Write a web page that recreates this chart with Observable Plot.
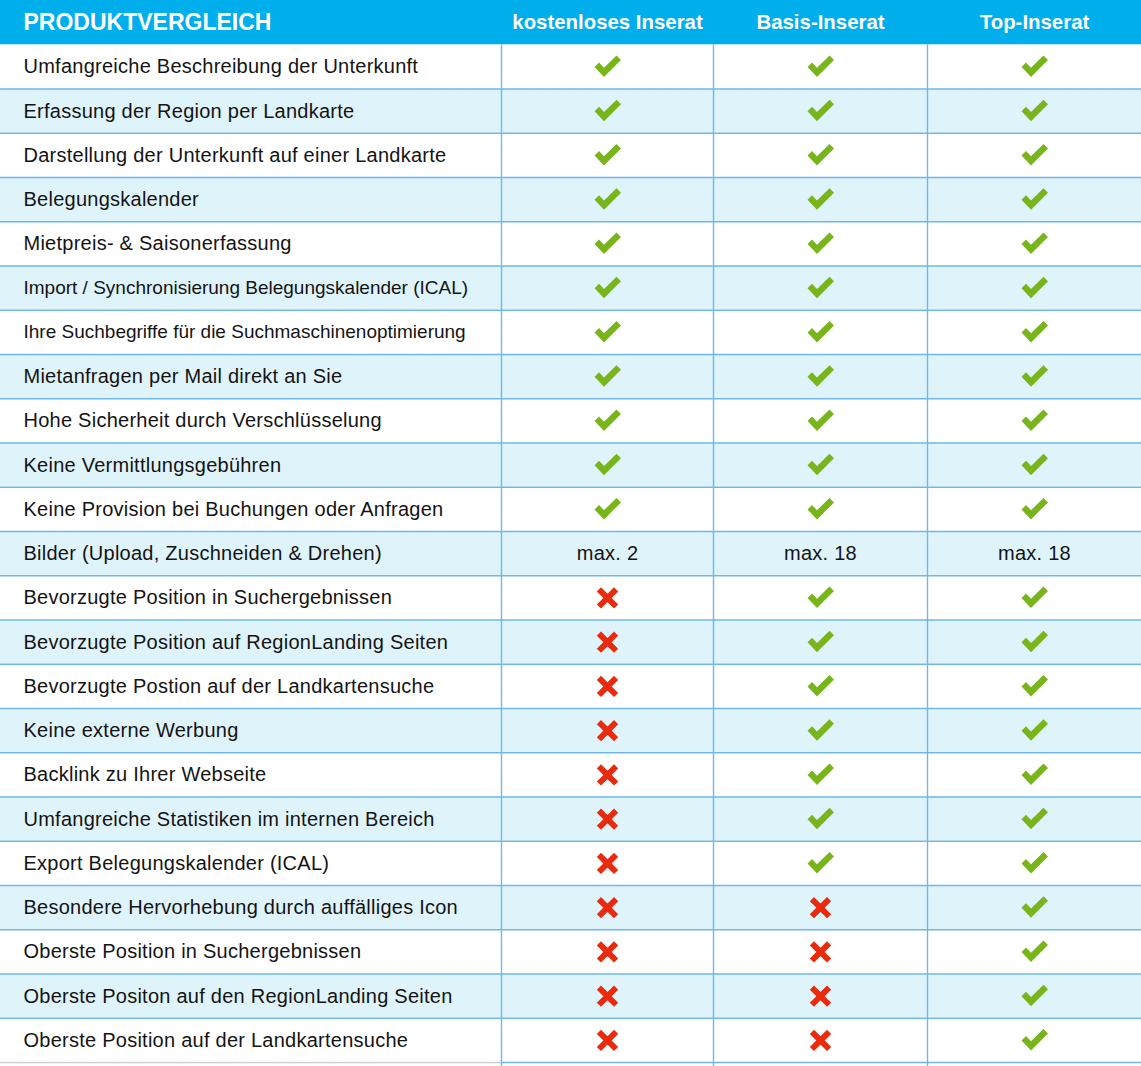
<!DOCTYPE html>
<html>
<head>
<meta charset="utf-8">
<script src="https://cdn.jsdelivr.net/npm/d3@7"></script>
<script src="https://cdn.jsdelivr.net/npm/@observablehq/plot@0.6"></script>
<style>
  html, body { margin: 0; padding: 0; background: #fff; }
  #chart svg { display: block; }
  #chart .lbl text { letter-spacing: 0.25px; }
</style>
</head>
<body>
<div id="chart"></div>
<script>
// ---- data ----
const title = "PRODUKTVERGLEICH";
const columns = ["kostenloses Inserat", "Basis-Inserat", "Top-Inserat"];
const features = [
  "Umfangreiche Beschreibung der Unterkunft",
  "Erfassung der Region per Landkarte",
  "Darstellung der Unterkunft auf einer Landkarte",
  "Belegungskalender",
  "Mietpreis- & Saisonerfassung",
  "Import / Synchronisierung Belegungskalender (ICAL)",
  "Ihre Suchbegriffe für die Suchmaschinenoptimierung",
  "Mietanfragen per Mail direkt an Sie",
  "Hohe Sicherheit durch Verschlüsselung",
  "Keine Vermittlungsgebühren",
  "Keine Provision bei Buchungen oder Anfragen",
  "Bilder (Upload, Zuschneiden & Drehen)",
  "Bevorzugte Position in Suchergebnissen",
  "Bevorzugte Position auf RegionLanding Seiten",
  "Bevorzugte Postion auf der Landkartensuche",
  "Keine externe Werbung",
  "Backlink zu Ihrer Webseite",
  "Umfangreiche Statistiken im internen Bereich",
  "Export Belegungskalender (ICAL)",
  "Besondere Hervorhebung durch auffälliges Icon",
  "Oberste Position in Suchergebnissen",
  "Oberste Positon auf den RegionLanding Seiten",
  "Oberste Position auf der Landkartensuche"
];
const freeValues = ["yes","yes","yes","yes","yes","yes","yes","yes","yes","yes","yes","max. 2",
  "no","no","no","no","no","no","no","no","no","no","no"];
const basisValues = ["yes","yes","yes","yes","yes","yes","yes","yes","yes","yes","yes","max. 18",
  "yes","yes","yes","yes","yes","yes","yes","no","no","no","no"];
const topValues = ["yes","yes","yes","yes","yes","yes","yes","yes","yes","yes","yes","max. 18",
  "yes","yes","yes","yes","yes","yes","yes","yes","yes","yes","yes"];

// ---- layout / style ----
const W = 1141, H = 1066;
const colEdges = [0, 501, 713, 927, 1141];
const nRows = features.length + 1;
const headerBlue = "#00aeeb";
const altBlue = "#dff3fb";
const lineBlue = "#6fb9ea";
const green = "#78b51b";
const red = "#ea2a0c";
const textColor = "#141414";
const font = "Liberation Sans, Arial, sans-serif";
const compactRows = new Set([
  "Import / Synchronisierung Belegungskalender (ICAL)",
  "Ihre Suchbegriffe für die Suchmaschinenoptimierung"
]);

const valueCols = [freeValues, basisValues, topValues];
const cells = [];
features.forEach((f, i) => {
  valueCols.forEach((vals, j) => cells.push({row: i + 1, col: j, value: vals[i]}));
});
const rows = features.map((f, i) => ({row: i + 1, label: f}));
const colCenter = (j) => (colEdges[j + 1] + colEdges[j + 2]) / 2;

// custom symbols
const checkSymbol = {
  draw(ctx) {
    ctx.moveTo(-13, 0);
    ctx.lineTo(-8.5, -4.5);
    ctx.lineTo(-3.5, 0.8);
    ctx.lineTo(9, -11.5);
    ctx.lineTo(13.5, -7);
    ctx.lineTo(-3.5, 10);
    ctx.closePath();
  }
};
const crossSymbol = {
  draw(ctx) {
    const a = 8.6, w = 2.1;
    ctx.moveTo(-a + w, -a - w); ctx.lineTo(a + w, a - w); ctx.lineTo(a - w, a + w); ctx.lineTo(-a - w, -a + w); ctx.closePath();
    ctx.moveTo(a - w, -a - w); ctx.lineTo(a + w, -a + w); ctx.lineTo(-a + w, a + w); ctx.lineTo(-a - w, a - w); ctx.closePath();
  }
};

const chart = Plot.plot({
  width: W,
  height: H,
  margin: 0,
  x: {domain: [0, W], range: [0, W], axis: null},
  y: {domain: [0, nRows], range: [0, 1062], axis: null},
  marks: [
    // row backgrounds
    Plot.rect(rows, {x1: 0, x2: W, y1: d => d.row, y2: d => d.row + 1,
      fill: d => d.row % 2 === 0 ? altBlue : "#ffffff"}),
    // header band
    Plot.rect([title], {x1: 0, x2: W, y1: 0, y2: 1, fill: headerBlue}),
    // horizontal lines under rows
    Plot.ruleY(rows, {y: d => d.row + 1, x1: colEdges[1], x2: W, stroke: lineBlue, strokeWidth: 1.6}),
    Plot.ruleY(rows, {y: d => d.row + 1, x1: 0, x2: colEdges[1],
      stroke: d => d.row === features.length ? "#cfcfcf" : lineBlue, strokeWidth: 1.6}),
    // vertical column separators
    Plot.ruleX(colEdges.slice(1, 4), {y1: 1, y2: nRows + 0.1, stroke: lineBlue, strokeWidth: 1.4, clip: false}),
    // header texts
    Plot.text([title], {x: 23, y: 0.5, text: d => d, textAnchor: "start", fill: "#fff",
      fontSize: 23, fontWeight: "bold", fontFamily: font}),
    Plot.text(columns, {x: (d, j) => colCenter(j), y: 0.5, text: d => d, fill: "#fff",
      fontSize: 20.4, fontWeight: "bold", fontFamily: font}),
    // row labels
    Plot.text(rows.filter(d => !compactRows.has(d.label)), {x: 23, y: d => d.row + 0.5, text: "label",
      textAnchor: "start", fill: textColor, fontSize: 20, fontFamily: font, className: "lbl"}),
    Plot.text(rows.filter(d => compactRows.has(d.label)), {x: 23, y: d => d.row + 0.5, text: "label",
      textAnchor: "start", fill: textColor, fontSize: 19, fontFamily: font}),
    // text values
    Plot.text(cells.filter(d => d.value !== "yes" && d.value !== "no"), {x: d => colCenter(d.col), y: d => d.row + 0.5,
      text: "value", fill: textColor, fontSize: 20, fontFamily: font, className: "lbl"}),
    // check marks and crosses
    Plot.dot(cells.filter(d => d.value === "yes"), {x: d => colCenter(d.col), y: d => d.row + 0.5,
      symbol: checkSymbol, fill: green, stroke: "none"}),
    Plot.dot(cells.filter(d => d.value === "no"), {x: d => colCenter(d.col), y: d => d.row + 0.5,
      symbol: crossSymbol, fill: red, stroke: "none"})
  ]
});
document.getElementById("chart").appendChild(chart);
</script>
</body>
</html>
